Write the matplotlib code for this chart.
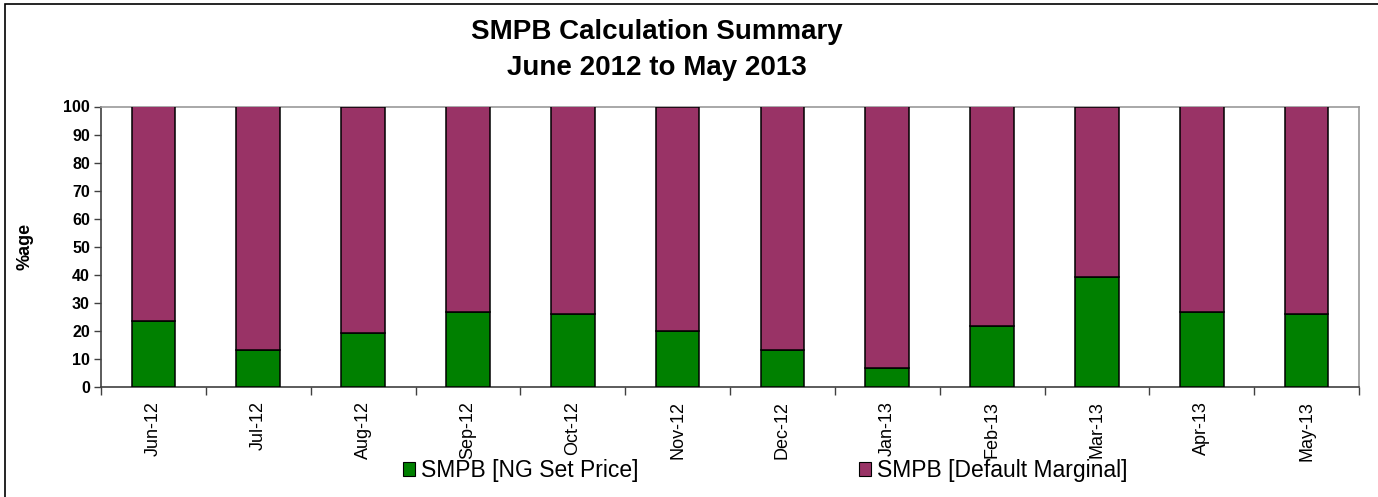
import matplotlib
matplotlib.use("Agg")
import matplotlib.pyplot as plt
from matplotlib.patches import Rectangle, Patch
import numpy as np

months = ["Jun-12", "Jul-12", "Aug-12", "Sep-12", "Oct-12", "Nov-12",
          "Dec-12", "Jan-13", "Feb-13", "Mar-13", "Apr-13", "May-13"]
ng_set_price = [23.5, 13.1, 19.2, 26.6, 26.0, 19.8, 13.1, 6.8, 21.7, 39.1, 26.6, 26.0]
default_marginal = [100 - v for v in ng_set_price]
yticks = list(range(0, 101, 10))

title_lines = ["SMPB Calculation Summary", "June 2012 to May 2013"]
series_names = ["SMPB [NG Set Price]", "SMPB [Default Marginal]"]
GREEN = "#008000"
PURPLE = "#993366"

plt.rcParams['font.family'] = ['Liberation Sans', 'DejaVu Sans']

W, H = 1378, 497
fig = plt.figure(figsize=(W / 100, H / 100), dpi=100)
fig.patch.set_facecolor("white")

# outer chart border (only left and top edges visible in the frame)
fig.patches.append(Rectangle((5 / W, -0.2), 1.2, 1.2 - 4 / H, transform=fig.transFigure,
                             fill=False, edgecolor="black", linewidth=1.2, zorder=0))

ax = fig.add_axes([101 / W, 1 - 387 / H, (1359 - 101) / W, (387 - 106.5) / H])
x = np.arange(len(months))
bw = 0.415
ax.bar(x, ng_set_price, width=bw, color=GREEN, edgecolor="black", linewidth=1.1, zorder=3)
ax.bar(x, default_marginal, width=bw, bottom=ng_set_price, color=PURPLE,
       edgecolor="black", linewidth=1.1, zorder=3)

ax.set_xlim(-0.5, len(months) - 0.5)
ax.set_ylim(0, 100)
ax.set_yticks(yticks)
ax.set_yticklabels([str(t) for t in yticks], fontsize=11.5, fontweight="bold")
ax.tick_params(axis="y", direction="out", length=5, width=1, color="#404040", pad=3)

ax.set_xticks(x)
ax.set_xticklabels(months, rotation=90, fontsize=13)
ax.tick_params(axis="x", which="major", length=0, pad=10)
ax.set_xticks(np.arange(-0.5, len(months), 1.0), minor=True)
ax.tick_params(axis="x", which="minor", direction="out", length=6, width=1, color="#404040")

for side in ["top", "right"]:
    ax.spines[side].set_color("#999999")
    ax.spines[side].set_linewidth(1.2)
ax.spines["left"].set_color("#404040")
ax.spines["bottom"].set_color("#404040")
ax.spines["left"].set_linewidth(1.2)
ax.spines["bottom"].set_linewidth(1.2)

ax.set_ylabel("%age", fontsize=13, fontweight="bold")
ax.yaxis.set_label_coords(-0.054, 0.5)

fig.text(657 / W, 1 - 32 / H, title_lines[0], ha="center", va="center",
         fontsize=20, fontweight="bold")
fig.text(657 / W, 1 - 68 / H, title_lines[1], ha="center", va="center",
         fontsize=20, fontweight="bold")

handles = [Patch(facecolor=GREEN, edgecolor="black", linewidth=0.8),
           Patch(facecolor=PURPLE, edgecolor="black", linewidth=0.8)]
leg = fig.legend(handles, series_names, loc="center", ncol=2,
                 bbox_to_anchor=(765 / W, 1 - 471 / H), frameon=False,
                 fontsize=16.5, handlelength=0.55, handleheight=0.55,
                 handletextpad=0.25, columnspacing=9.6, borderaxespad=0)

fig.savefig("out.png", dpi=100, facecolor="white")
